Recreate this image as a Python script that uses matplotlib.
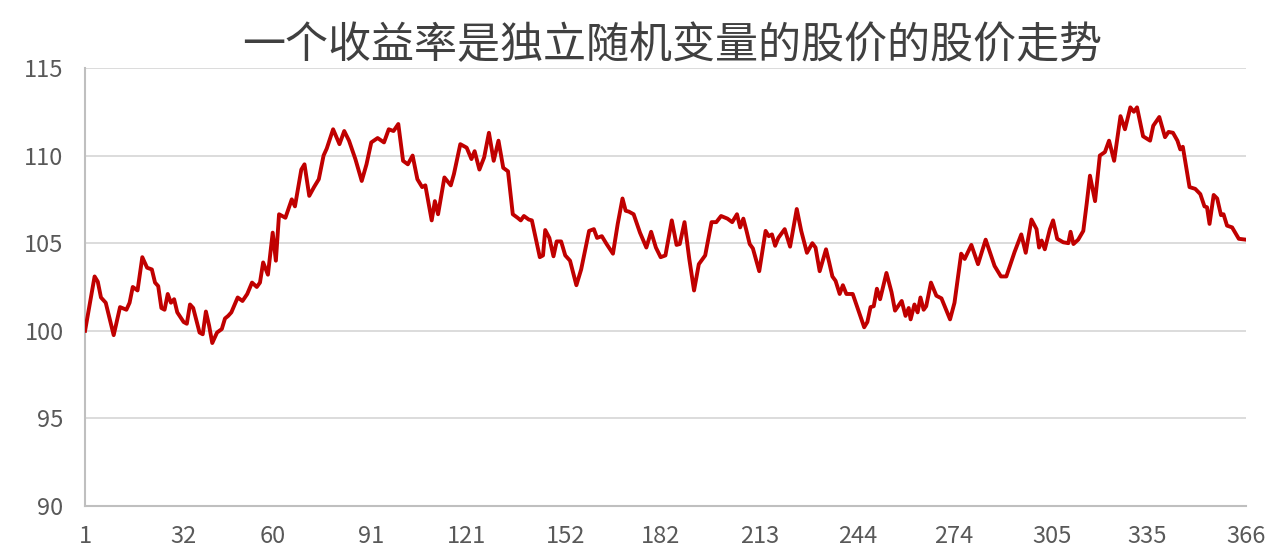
import matplotlib.pyplot as plt

plt.rcParams['font.family'] = ['Noto Sans CJK SC', 'DejaVu Sans']

title = '一个收益率是独立随机变量的股价的股价走势'
xticks = [1, 32, 60, 91, 121, 152, 182, 213, 244, 274, 305, 335, 366]
yticks = [90, 95, 100, 105, 110, 115]

# values (day, price)
days = [1, 4, 5, 6, 7.5, 10, 12, 14, 15, 16, 17.5, 19, 20.5, 22, 23, 24, 25, 26, 27, 28,
        29, 30, 32, 33, 34, 35, 37, 38, 39, 40, 41, 42.5, 44, 45, 46, 47, 49, 50.5, 52, 53.5,
        55, 56, 57, 58.5, 60, 61, 62, 64, 66, 67, 69, 70, 71.5, 73, 74.5, 76, 77, 79, 81, 82.5,
        84, 86, 88, 89.5, 91, 93, 95, 96.5, 98, 99.5, 101, 102.5, 104, 105.5, 107, 108, 110, 111, 112, 114,
        116, 117, 119, 121, 122.5, 123.5, 125, 126.5, 128, 129.5, 131, 132.5, 134, 135.5, 137, 138, 139, 140.5,
        141.5, 144, 145, 145.7, 147, 148.3, 149.3, 150.7, 152, 153.5, 155.5, 157, 159.5, 161, 162, 163.5,
        165, 167, 168.5, 170, 171, 172, 173.5, 175.5, 177.5, 179, 180.5, 182, 183.5, 185.5, 187, 188,
        189.5, 191, 192.5, 194, 196, 198, 199.5, 201, 203, 204.5, 206, 207, 208, 209, 210, 211,
        213, 215, 216, 217, 218, 219, 221, 222.7, 224.8, 226.2, 228, 229.7, 230.7, 232, 234, 235,
        236, 237, 238.3, 239.3, 240.4, 242.4, 244, 246, 247, 248, 249, 250, 251, 253, 254.6, 255.7,
        257.8, 259, 260, 260.6, 261.8, 262.8, 263.7, 264.7, 265.5, 267, 268.7, 270.3, 271.3, 273, 274.4, 276.5,
        277.6, 279.7, 281.8, 284.2, 287, 289, 290.7, 293.3, 295.4, 296.8, 298.6, 300.2, 301, 301.8,
        302.8, 304.4, 305.4, 306.7, 308.6, 310.2, 310.9, 311.8, 313.3, 314.9, 316, 317, 318.6, 320.1,
        321.7, 323, 324.6, 326.6, 328, 329.7, 330.8, 331.8, 333.7, 335.9, 336.9, 338.8, 340.6, 341.7,
        343.1, 344.5, 345.4, 346.2, 348.3, 350.1, 351.7, 353, 353.8, 354.6, 355.9, 357, 358.2, 359,
        360.1, 361.7, 363.8, 366]
price = [100.0, 103.1, 102.8, 101.9, 101.6, 99.75, 101.35, 101.2, 101.6, 102.5, 102.3, 104.2, 103.6, 103.5,
         102.75, 102.55, 101.3, 101.2, 102.1, 101.6, 101.8, 101.05, 100.5, 100.4, 101.5, 101.3, 99.9, 99.8,
         101.1, 100.3, 99.3, 99.9, 100.1, 100.7, 100.85, 101.05, 101.9, 101.7, 102.1, 102.75, 102.5, 102.75,
         103.9, 103.2, 105.6, 104.0, 106.65, 106.45, 107.5, 107.1, 109.2, 109.5, 107.7, 108.2, 108.65, 110.0,
         110.4, 111.5, 110.65, 111.4, 110.85, 109.8, 108.55, 109.5, 110.75, 111.0, 110.75, 111.5, 111.4, 111.8,
         109.7, 109.5, 110.0, 108.65, 108.2, 108.3, 106.3, 107.4, 106.65, 108.75, 108.3, 108.95, 110.65, 110.45,
         109.8, 110.25, 109.2, 109.9, 111.3, 109.7, 110.85, 109.3, 109.1, 106.65, 106.45, 106.3, 106.55, 106.35,
         106.3, 104.2, 104.3, 105.75, 105.3, 104.25, 105.1, 105.1, 104.3, 104.0, 102.6, 103.5, 105.7, 105.8,
         105.3, 105.4, 104.95, 104.4, 106.1, 107.55, 106.85, 106.8, 106.65, 105.6, 104.75, 105.65, 104.75, 104.2,
         104.3, 106.3, 104.9, 104.95, 106.2, 104.1, 102.3, 103.8, 104.3, 106.2, 106.2, 106.55, 106.4, 106.2,
         106.65, 105.9, 106.4, 105.7, 104.95, 104.7, 103.4, 105.7, 105.4, 105.5, 104.85, 105.3, 105.8, 104.8,
         106.95, 105.7, 104.45, 105.0, 104.75, 103.4, 104.65, 103.9, 103.1, 102.85, 102.1, 102.6, 102.1, 102.1,
         101.25, 100.2, 100.5, 101.35, 101.4, 102.4, 101.8, 103.3, 102.2, 101.15, 101.7, 100.85, 101.3, 100.65,
         101.5, 101.05, 101.9, 101.2, 101.4, 102.75, 102.0, 101.85, 101.4, 100.65, 101.6, 104.4, 104.1, 104.9,
         103.8, 105.2, 103.7, 103.1, 103.1, 104.5, 105.5, 104.45, 106.35, 105.8, 104.75, 105.15, 104.65, 105.8,
         106.3, 105.25, 105.05, 105.0, 105.65, 104.95, 105.2, 105.7, 107.3, 108.85, 107.4, 110.0, 110.2, 110.85,
         109.7, 112.25, 111.5, 112.75, 112.5, 112.75, 111.1, 110.85, 111.7, 112.2, 111.05, 111.35, 111.3, 110.85,
         110.35, 110.5, 108.2, 108.1, 107.8, 107.1, 107.05, 106.1, 107.75, 107.55, 106.6, 106.65, 106.0, 105.9,
         105.25, 105.2]

fig = plt.figure(figsize=(12.83, 5.57), dpi=100)
ax = fig.add_axes([0.0663, 0.0916, 0.9047, 0.7864])

ax.plot(days, price, color='#C00000', linewidth=2.8, solid_joinstyle='round', zorder=3)

ax.set_xlim(1, 366)
ax.set_ylim(90, 115)
ax.set_xticks(xticks)
ax.set_yticks(yticks)
ax.yaxis.grid(True, color='#D9D9D9', linewidth=1.3)
ax.set_axisbelow(True)
for s in ['top', 'right']:
    ax.spines[s].set_visible(False)
for s in ['left', 'bottom']:
    ax.spines[s].set_color('#BFBFBF')
    ax.spines[s].set_linewidth(1.5)
ax.tick_params(length=0, labelsize=17, colors='#595959')
ax.tick_params(axis='y', pad=15.5)
ax.tick_params(axis='x', pad=14)

fig.text(0.524, 0.918, title, ha='center', va='center', fontsize=31, color='#404040')

fig.savefig('out.png', dpi=100)
